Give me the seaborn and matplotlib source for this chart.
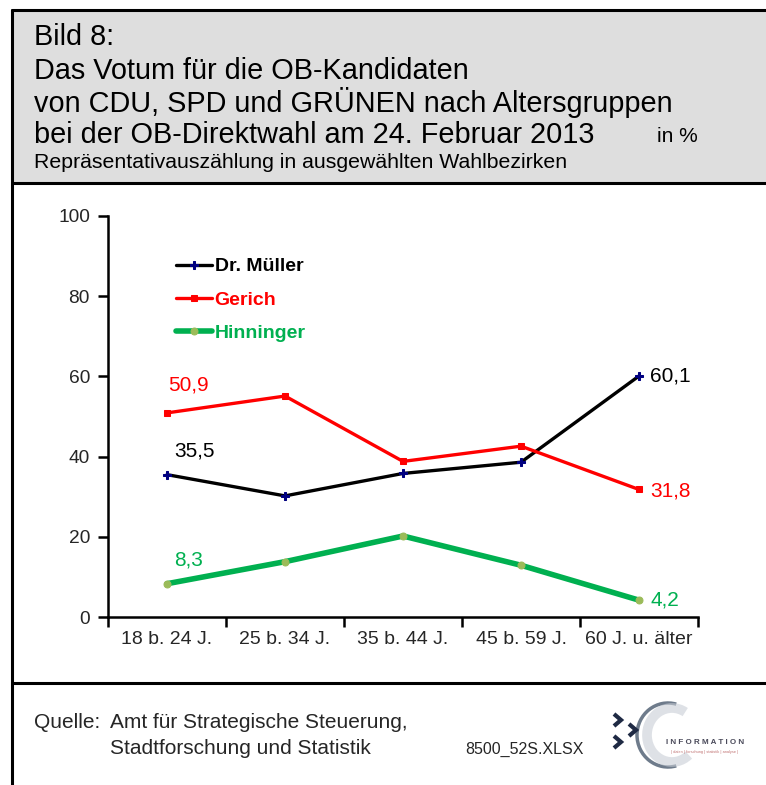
import numpy as np
import pandas as pd
import matplotlib
matplotlib.use("Agg")
import matplotlib.pyplot as plt
import seaborn as sns
from matplotlib.lines import Line2D
from matplotlib.patches import Rectangle, Arc

categories = ["18 b. 24 J.", "25 b. 34 J.", "35 b. 44 J.", "45 b. 59 J.", "60 J. u. älter"]
mueller = [35.5, 30.2, 35.8, 38.6, 60.1]
gerich = [50.9, 55.1, 38.8, 42.6, 31.8]
hinninger = [8.3, 13.8, 20.2, 12.9, 4.2]
y_ticks = [0, 20, 40, 60, 80, 100]

sns.set_theme(style="white")
plt.rcParams["font.family"] = ["Liberation Sans", "DejaVu Sans"]

W, H = 766, 785
fig = plt.figure(figsize=(W / 100, H / 100), dpi=100)
fig.patch.set_facecolor("white")

def fx(x):
    return x / W

def fy(y):
    return 1 - y / H

# header box
fig.add_artist(Rectangle((fx(12), fy(183)), fx(800) - fx(12), fy(10) - fy(183),
                         transform=fig.transFigure, facecolor="#DEDEDE", edgecolor="none", zorder=0))
lw = 2.2
fig.add_artist(Line2D([fx(12), fx(800)], [fy(10), fy(10)], transform=fig.transFigure, color="black", lw=lw))
fig.add_artist(Line2D([fx(12), fx(800)], [fy(183), fy(183)], transform=fig.transFigure, color="black", lw=lw))
fig.add_artist(Line2D([fx(12), fx(800)], [fy(683), fy(683)], transform=fig.transFigure, color="black", lw=lw))
fig.add_artist(Line2D([fx(12), fx(12)], [fy(10), fy(790)], transform=fig.transFigure, color="black", lw=lw))

# titles
title_lines = ["Bild 8:", "Das Votum für die OB-Kandidaten",
               "von CDU, SPD und GRÜNEN nach Altersgruppen",
               "bei der OB-Direktwahl am 24. Februar 2013"]
ys = [37, 71, 103, 135]
for t, yy in zip(title_lines, ys):
    fig.text(fx(34), fy(yy), t, fontsize=20.8, va="center", ha="left", color="black")
fig.text(fx(657), fy(137), "in %", fontsize=15, va="center", ha="left", color="black")
fig.text(fx(34), fy(163), "Repräsentativauszählung in ausgewählten Wahlbezirken",
         fontsize=15.3, va="center", ha="left", color="black")

# axes
ax = fig.add_axes([fx(108), fy(617), fx(698) - fx(108), fy(216) - fy(617)])
ax.set_facecolor("none")
x = np.arange(len(categories))
df = pd.DataFrame({"x": x, "Dr. Müller": mueller, "Gerich": gerich, "Hinninger": hinninger})

sns.lineplot(data=df, x="x", y="Dr. Müller", ax=ax, color="black", lw=2.4, marker="P",
             markersize=6, markerfacecolor="#000080", markeredgecolor="#000080", label="Dr. Müller")
sns.lineplot(data=df, x="x", y="Gerich", ax=ax, color="#FF0000", lw=2.4, marker="s",
             markersize=5, markerfacecolor="#FF0000", markeredgecolor="#FF0000", label="Gerich")
sns.lineplot(data=df, x="x", y="Hinninger", ax=ax, color="#00B050", lw=4, marker="o",
             markersize=5, markerfacecolor="#9BBB59", markeredgecolor="#9BBB59", label="Hinninger")

ax.set_xlim(-0.5, len(categories) - 0.5)
ax.set_ylim(0, 100)
ax.set_yticks(y_ticks)
ax.set_yticklabels([str(v) for v in y_ticks], fontsize=13.8)
ax.set_xticks(np.arange(len(categories) + 1) - 0.5)
ax.set_xticklabels([])
ax.set_xticks(x, minor=True)
ax.set_xticklabels(categories, minor=True, fontsize=14)
ax.tick_params(axis="x", which="major", length=7, width=1.8, direction="out", color="black", bottom=True)
ax.tick_params(axis="x", which="minor", length=0, pad=10)
ax.tick_params(axis="y", which="major", length=7, width=1.8, direction="out", color="black", left=True, pad=6)
ax.set_xlabel("")
ax.set_ylabel("")
for s in ["top", "right"]:
    ax.spines[s].set_visible(False)
for s in ["left", "bottom"]:
    ax.spines[s].set_color("black")
    ax.spines[s].set_linewidth(1.8)
ax.grid(False)

# data labels
lab_fs = 15
ax.annotate("50,9", (x[0], gerich[0]), xytext=(1, 20), textcoords="offset points",
            color="#FF0000", fontsize=lab_fs, va="center", ha="left")
ax.annotate("35,5", (x[0], mueller[0]), xytext=(5, 17), textcoords="offset points",
            color="black", fontsize=lab_fs, va="center", ha="left")
ax.annotate("8,3", (x[0], hinninger[0]), xytext=(5, 17), textcoords="offset points",
            color="#00B050", fontsize=lab_fs, va="center", ha="left")
ax.annotate("60,1", (x[-1], mueller[-1]), xytext=(8, 0), textcoords="offset points",
            color="black", fontsize=lab_fs, va="center", ha="left")
ax.annotate("31,8", (x[-1], gerich[-1]), xytext=(8, -1), textcoords="offset points",
            color="#FF0000", fontsize=lab_fs, va="center", ha="left")
ax.annotate("4,2", (x[-1], hinninger[-1]), xytext=(8, 0), textcoords="offset points",
            color="#00B050", fontsize=lab_fs, va="center", ha="left")

leg = ax.legend(loc="upper left", bbox_to_anchor=((168 - 108) / 590, (617 - 250) / 401),
                frameon=False, handlelength=1.85, handletextpad=0.15, labelspacing=0.8,
                borderpad=0.4, borderaxespad=0,
                prop={"weight": "bold", "size": 14}, labelcolor="linecolor")

# footer
fig.text(fx(34), fy(722), "Quelle:", fontsize=15, va="center", ha="left")
fig.text(fx(110), fy(722), "Amt für Strategische Steuerung,", fontsize=15, va="center", ha="left")
fig.text(fx(110), fy(748), "Stadtforschung und Statistik", fontsize=15, va="center", ha="left")
fig.text(fx(465), fy(749), "8500_52S.XLSX", fontsize=11.5, va="center", ha="left")

# logo approximation (pixel coordinates inside its own axes)
lx0, lx1, ly0, ly1 = 600, 766, 690, 785
lax = fig.add_axes([fx(lx0), fy(ly1), fx(lx1) - fx(lx0), fy(ly0) - fy(ly1)])
lax.set_xlim(lx0, lx1)
lax.set_ylim(ly1, ly0)
lax.axis("off")
lax.add_patch(Arc((668, 735), 62, 64, theta1=75, theta2=285, color="#6E7B8B", lw=2.5))
lax.add_patch(Arc((672, 735), 50, 54, theta1=50, theta2=300, color="#C9CED6", lw=7, alpha=0.6))
for (cx, cy) in [(618, 720), (633, 730), (618, 742)]:
    lax.plot([cx - 4, cx + 3, cx - 4], [cy - 6, cy, cy + 6], color="#1F2A44", lw=3,
             solid_capstyle="butt", solid_joinstyle="miter")
lax.text(705, 743, "I N F O R M A T I O N", fontsize=5.8, color="#4A4A5A",
         ha="center", va="center", weight="bold")
lax.text(705, 752, "| daten | forschung | statistik | analyse |", fontsize=2.8,
         color="#C07070", ha="center", va="center")

fig.savefig("out.png", dpi=100)
